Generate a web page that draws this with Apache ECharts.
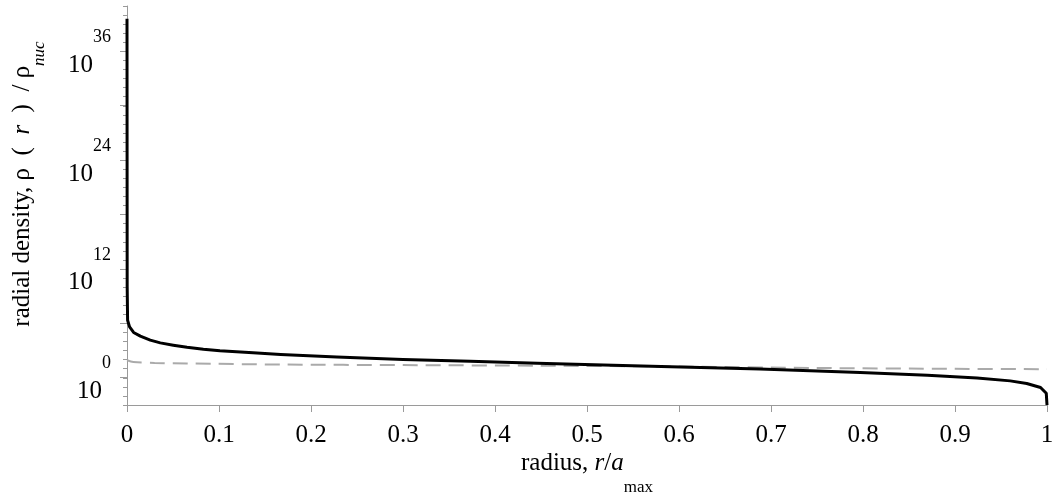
<!DOCTYPE html>
<html>
<head>
<meta charset="utf-8">
<script src="https://cdn.jsdelivr.net/npm/echarts@6/dist/echarts.min.js"></script>
<style>
  html, body { margin: 0; padding: 0; background: #fff; }
  #chart { width: 1054px; height: 497px; }
</style>
</head>
<body>
<div id="chart"></div>
<script>
// radius r/a_max and log10 of rho(r)/rho_nuc
var solidRadius = [0, 0.0002, 0.00065, 0.0028, 0.0072, 0.0145, 0.0253, 0.0362, 0.0503, 0.0652, 0.083, 0.101,
    0.137, 0.167, 0.228, 0.300, 0.373, 0.446, 0.518, 0.591, 0.688, 0.797, 0.870, 0.924, 0.960, 0.978, 0.993, 0.9992, 1.0];
var solidLog10 = [39.6, 10.0, 6.35, 5.61, 5.0, 4.59, 4.15, 3.85, 3.60, 3.37, 3.15, 2.97,
    2.75, 2.57, 2.30, 2.02, 1.82, 1.60, 1.40, 1.21, 0.96, 0.58, 0.29, -0.01, -0.34, -0.63, -1.07, -1.70, -3.0];

var dashedRadius = [0, 0.007, 0.03, 0.065, 0.17, 0.3, 0.45, 0.6, 0.75, 0.9, 1.0];
var dashedLog10 = [1.94, 1.75, 1.64, 1.58, 1.46, 1.40, 1.33, 1.24, 1.08, 0.99, 0.95];

var majorExponents = [0, 12, 24, 36];

var FONT = "'Liberation Serif', 'Times New Roman', serif";
var AXIS_GREY = '#9a9a9a';

function pairs(xs, ys) {
    var out = [];
    for (var i = 0; i < xs.length; i++) {
        out.push([xs[i], ys[i]]);
    }
    return out;
}

var myChart = echarts.init(document.getElementById('chart'), null, {renderer: 'canvas'});

var option = {
    backgroundColor: '#fff',
    animation: false,
    grid: [
        // main plot area: 10^-3 .. 10^41
        {left: 127, right: 7, top: 6, bottom: 92, outerBoundsMode: 'none', containLabel: false},
        // same scale, only used for long ticks & labels (10^0 .. 10^36)
        {left: 127, right: 7, top: 51.2, bottom: 119.4, outerBoundsMode: 'none', containLabel: false}
    ],
    xAxis: [{
        gridIndex: 0,
        type: 'value',
        min: 0,
        max: 1,
        interval: 0.1,
        axisLine: {onZero: false, lineStyle: {color: AXIS_GREY, width: 1}},
        axisTick: {length: 7, lineStyle: {color: AXIS_GREY}},
        splitLine: {show: false},
        axisLabel: {
            margin: 18,
            color: '#000',
            fontFamily: FONT,
            fontSize: 25
        },
        name: '{a|radius, }{i|r}{a|/}{i|a}{s|max}',
        nameLocation: 'middle',
        nameGap: 43,
        nameMoveOverlap: false,
        nameTextStyle: {
            rich: {
                a: {fontFamily: FONT, fontSize: 25, color: '#000', lineHeight: 30},
                i: {fontFamily: FONT, fontSize: 25, color: '#000', fontStyle: 'italic', lineHeight: 30},
                s: {fontFamily: FONT, fontSize: 17, color: '#000', lineHeight: 20, padding: [50, 0, 0, 0]}
            }
        }
    }, {
        gridIndex: 1,
        type: 'value',
        min: 0,
        max: 1,
        show: false
    }],
    yAxis: [{
        gridIndex: 0,
        type: 'value',
        min: -3,
        max: 41,
        interval: 1,
        axisLine: {show: true, onZero: false, lineStyle: {color: AXIS_GREY, width: 1}},
        axisTick: {length: 4, lineStyle: {color: AXIS_GREY}},
        axisLabel: {show: false},
        splitLine: {show: false},
        name: '{a|radial density, ρ  (  }{i|r}{a|  )  / ρ}{s|nuc}',
        nameLocation: 'middle',
        nameGap: 90,
        nameMoveOverlap: false,
        nameTextStyle: {
            padding: [0, 0, 0, 43],
            rich: {
                a: {fontFamily: FONT, fontSize: 25, color: '#000', lineHeight: 30},
                i: {fontFamily: FONT, fontSize: 25, color: '#000', fontStyle: 'italic', lineHeight: 30},
                s: {fontFamily: FONT, fontSize: 17, color: '#000', fontStyle: 'italic', lineHeight: 20, padding: [36, 0, 0, 0]}
            }
        }
    }, {
        gridIndex: 1,
        type: 'value',
        min: 0,
        max: 36,
        interval: 6,
        axisLine: {show: false},
        axisTick: {show: true, length: 7, lineStyle: {color: AXIS_GREY}},
        splitLine: {show: false},
        axisLabel: {
            margin: 16,
            formatter: function(v) {
                if (majorExponents.indexOf(v) < 0) return '';
                return '{sp|}{e|' + v + '}\n{b|10}';
            },
            rich: {
                sp: {width: 25, align: 'left', lineHeight: 28},
                e: {fontFamily: FONT, fontSize: 18, color: '#000', lineHeight: 28, align: 'left'},
                b: {fontFamily: FONT, fontSize: 25, color: '#000', lineHeight: 28, align: 'left'}
            }
        }
    }],
    series: [{
        name: 'dashed',
        type: 'line',
        xAxisIndex: 0,
        yAxisIndex: 0,
        showSymbol: false,
        smooth: 0.3,
        lineStyle: {color: '#aaaaaa', width: 2, type: [15, 8]},
        data: pairs(dashedRadius, dashedLog10)
    }, {
        name: 'solid',
        type: 'line',
        xAxisIndex: 0,
        yAxisIndex: 0,
        showSymbol: false,
        smooth: false,
        lineStyle: {color: '#000', width: 3, join: 'round'},
        data: pairs(solidRadius, solidLog10)
    }]
};
myChart.setOption(option);
</script>
</body>
</html>
